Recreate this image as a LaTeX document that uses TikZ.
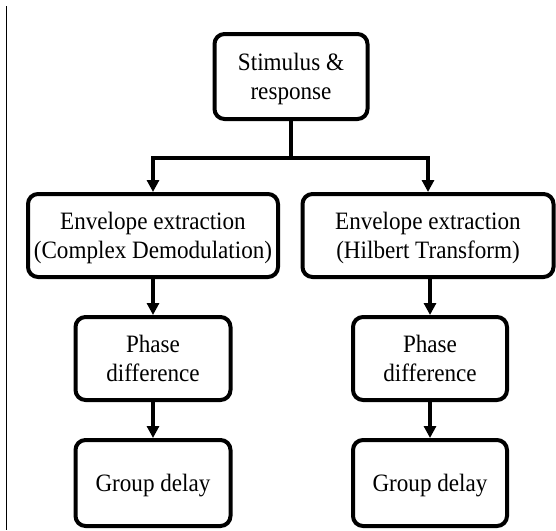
\documentclass[tikz,border=0pt]{standalone}
\usepackage{fontspec}
\setmainfont{Liberation Serif}[FakeStretch=0.925]
\usetikzlibrary{arrows.meta}

\tikzset{
  stagebox/.style={draw, line width=4pt, rounded corners=10pt, align=center,
    font=\fontsize{25}{29}\selectfont, inner sep=0pt, text depth=0pt},
  flow/.style={line width=4pt, -{Triangle[length=12pt,width=12pt]}}
}

\begin{document}
\begin{tikzpicture}[x=1pt, y=-1pt]

\useasboundingbox (0,0) rectangle (556,530);

% left rule
\draw[line width=1.2pt] (6.5,6) -- (6.5,530);

% boxes
\node[stagebox, minimum width=153pt, minimum height=85pt] (stim) at (291,76.5) {Stimulus \&\\response};

\node[stagebox, minimum width=250pt, minimum height=83pt] (envL) at (153,235.5) {Envelope extraction\\(Complex Demodulation)};
\node[stagebox, minimum width=251pt, minimum height=83pt] (envR) at (428,235.5) {Envelope extraction\\(Hilbert Transform)};

\node[stagebox, minimum width=155pt, minimum height=83pt] (phL) at (153,358.5) {Phase\\difference};
\node[stagebox, minimum width=154pt, minimum height=83pt] (phR) at (430,358.5) {Phase\\difference};

\node[stagebox, minimum width=155pt, minimum height=86pt] (gdL) at (153,483) {Group delay};
\node[stagebox, minimum width=154pt, minimum height=86pt] (gdR) at (430,483) {Group delay};

% split
\draw[line width=4pt] (stim.south) -- ++(0,37) coordinate (split);
\draw[flow] (split) -| (envL.north);
\draw[flow] (split) -| (envR.north);

% left branch
\draw[flow] (envL) -- (phL);
\draw[flow] (phL) -- (gdL);

% right branch
\draw[flow] (envR.south -| phR) -- (phR);
\draw[flow] (phR) -- (gdR);

\end{tikzpicture}
\end{document}
